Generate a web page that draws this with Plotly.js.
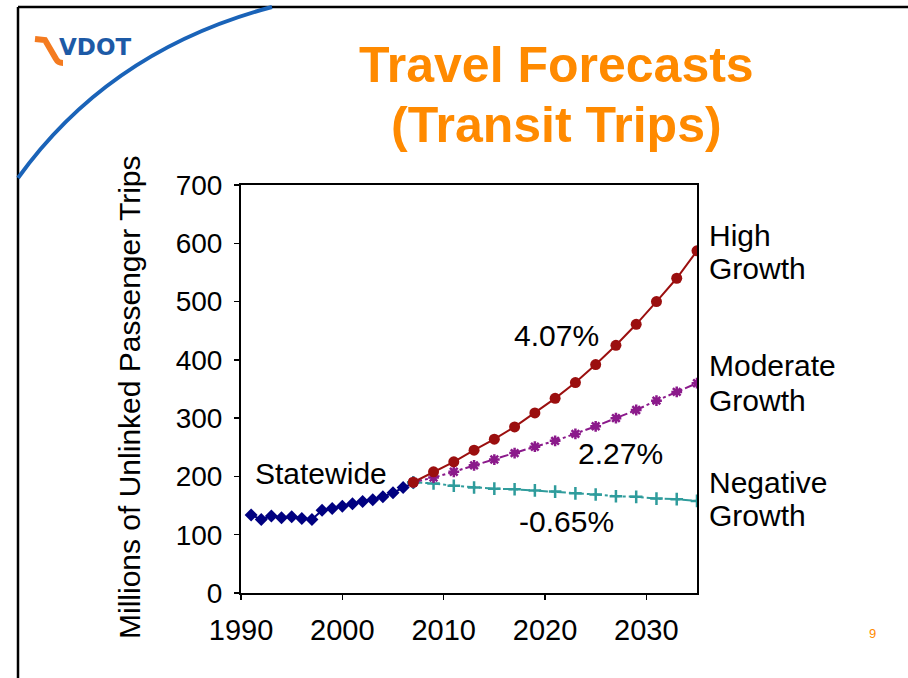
<!DOCTYPE html>
<html>
<head>
<meta charset="utf-8">
<script src="https://cdn.plot.ly/plotly-3.0.1.min.js"></script>
<style>
  html, body { margin: 0; padding: 0; background: #fff; }
  #chart { width: 908px; height: 678px; }
</style>
</head>
<body>
<div id="chart"></div>
<script>
// ---- Data ----
const histYears = [1991, 1992, 1993, 1994, 1995, 1996, 1997, 1998, 1999, 2000, 2001, 2002, 2003, 2004, 2005, 2006, 2007];
const histValues = [134, 126, 132, 129, 131, 128, 126, 142, 145, 149, 153, 157, 160, 165, 172, 181, 189];

const forecastYears = [2007, 2009, 2011, 2013, 2015, 2017, 2019, 2021, 2023, 2025, 2027, 2029, 2031, 2033, 2035];
const highValues     = [190, 208, 225, 245, 264, 285, 309, 334, 361, 392, 425, 461, 500, 540, 587];
const moderateValues = [190, 198, 208, 219, 229, 240, 251, 261, 273, 286, 300, 314, 330, 345, 360];
const negativeValues = [190, 188, 184, 181, 179, 178, 176, 174, 171, 169, 166, 165, 162, 161, 158];

const xTickVals = [1990, 2000, 2010, 2020, 2030];
const yTickVals = [0, 100, 200, 300, 400, 500, 600, 700];

// ---- Layout helpers (pixel -> paper) ----
const W = 908, H = 678;
const PL = 241, PR = 697, PT = 185, PB = 593;
const px = x => (x - PL) / (PR - PL);
const py = y => (PB - y) / (PB - PT);

const FONT = 'Liberation Sans, Arial, Helvetica, sans-serif';

const traces = [
  {
    x: histYears, y: histValues, type: 'scatter', mode: 'lines+markers', name: 'Statewide',
    line: { color: '#000080', width: 2 },
    marker: { symbol: 'diamond', size: 10, color: '#000080' }
  },
  {
    x: forecastYears, y: negativeValues, type: 'scatter', mode: 'lines+markers', name: 'Negative Growth',
    line: { color: '#2f9c9c', width: 2, dash: 'dashdot' },
    marker: { symbol: 'cross-thin', size: 9, color: '#2f9c9c', line: { color: '#2f9c9c', width: 2.5 } }
  },
  {
    x: forecastYears, y: moderateValues, type: 'scatter', mode: 'lines+markers', name: 'Moderate Growth',
    line: { color: '#8b1a8b', width: 2, dash: 'dashdot' },
    marker: { symbol: 'asterisk', size: 9, color: '#8b1a8b', line: { color: '#8b1a8b', width: 2.5 } }
  },
  {
    x: forecastYears, y: highValues, type: 'scatter', mode: 'lines+markers', name: 'High Growth',
    line: { color: '#9b0f0f', width: 2 },
    marker: { symbol: 'circle', size: 11, color: '#9b0f0f' }
  }
];

function ann(text, x, y, size, color, opts) {
  return Object.assign({
    text: text, xref: 'paper', yref: 'paper', x: px(x), y: py(y),
    xanchor: 'center', yanchor: 'middle', showarrow: false,
    font: { family: FONT, size: size, color: color }
  }, opts || {});
}

const annotations = [
  ann('<b>Travel Forecasts</b>', 556, 65, 50, '#ff8a00'),
  ann('<b>(Transit Trips)</b>', 556, 125, 50, '#ff8a00'),
  Object.assign(ann('<b>VDOT</b>', 95, 47, 23, '#1d5aa6'), { font: { family: 'DejaVu Sans, sans-serif', size: 23, color: '#1d5aa6' } }),
  ann('9', 872, 633, 13, '#ff8a00'),
  ann('Millions of Unlinked Passenger Trips', 129, 397, 30, '#000', { textangle: -90 }),
  ann('Statewide', 321, 474, 30, '#000'),
  ann('4.07%', 556, 335, 30, '#000'),
  ann('2.27%', 620, 453, 30, '#000'),
  ann('-0.65%', 566, 521, 30, '#000'),
  ann('High', 707, 235, 30, '#000', { xanchor: 'left' }),
  ann('Growth', 707, 268, 30, '#000', { xanchor: 'left' }),
  ann('Moderate', 707, 365, 30, '#000', { xanchor: 'left' }),
  ann('Growth', 707, 400, 30, '#000', { xanchor: 'left' }),
  ann('Negative', 707, 482, 30, '#000', { xanchor: 'left' }),
  ann('Growth', 707, 515, 30, '#000', { xanchor: 'left' })
];

const shapes = [
  // slide frame (top and left edges)
  { type: 'line', xref: 'paper', yref: 'paper', x0: px(18), y0: py(7), x1: px(908), y1: py(7),
    line: { color: '#000', width: 2.5 } },
  { type: 'line', xref: 'paper', yref: 'paper', x0: px(18), y0: py(7), x1: px(18), y1: py(678),
    line: { color: '#000', width: 2.5 } },
  // blue arc
  { type: 'path', xref: 'paper', yref: 'paper',
    path: 'M ' + px(18) + ',' + py(178) + ' Q ' + px(110) + ',' + py(50) + ' ' + px(272) + ',' + py(7),
    line: { color: '#1a63b8', width: 4 } },
  // orange swoosh of logo
  { type: 'path', xref: 'paper', yref: 'paper',
    path: 'M ' + px(35) + ',' + py(39) + ' L ' + px(45) + ',' + py(40) +
          ' L ' + px(56) + ',' + py(59) + ' Q ' + px(58) + ',' + py(63) + ' ' + px(63) + ',' + py(63),
    line: { color: '#f47b20', width: 6 } }
];

const layout = {
  width: W, height: H,
  margin: { l: PL, r: W - PR, t: PT, b: H - PB, pad: 0 },
  paper_bgcolor: '#fff', plot_bgcolor: '#fff',
  showlegend: false,
  font: { family: FONT, color: '#000' },
  xaxis: {
    range: [1990, 2035], tickvals: xTickVals, ticktext: xTickVals.map(String),
    showgrid: false, zeroline: false, showline: true, mirror: true,
    linecolor: '#000', linewidth: 2, ticks: 'outside', ticklen: 5, tickwidth: 1.5, tickcolor: '#000',
    tickfont: { family: FONT, size: 29, color: '#000' }, ticklabelstandoff: 5
  },
  yaxis: {
    range: [0, 700], tickvals: yTickVals, ticktext: yTickVals.map(String),
    showgrid: false, zeroline: false, showline: true, mirror: true,
    linecolor: '#000', linewidth: 2, ticks: 'outside', ticklen: 5, tickwidth: 1.5, tickcolor: '#000',
    tickfont: { family: FONT, size: 28, color: '#000' }, ticklabelstandoff: 6
  },
  annotations: annotations,
  shapes: shapes
};

Plotly.newPlot('chart', traces, layout, { staticPlot: true, displayModeBar: false });
</script>
</body>
</html>
